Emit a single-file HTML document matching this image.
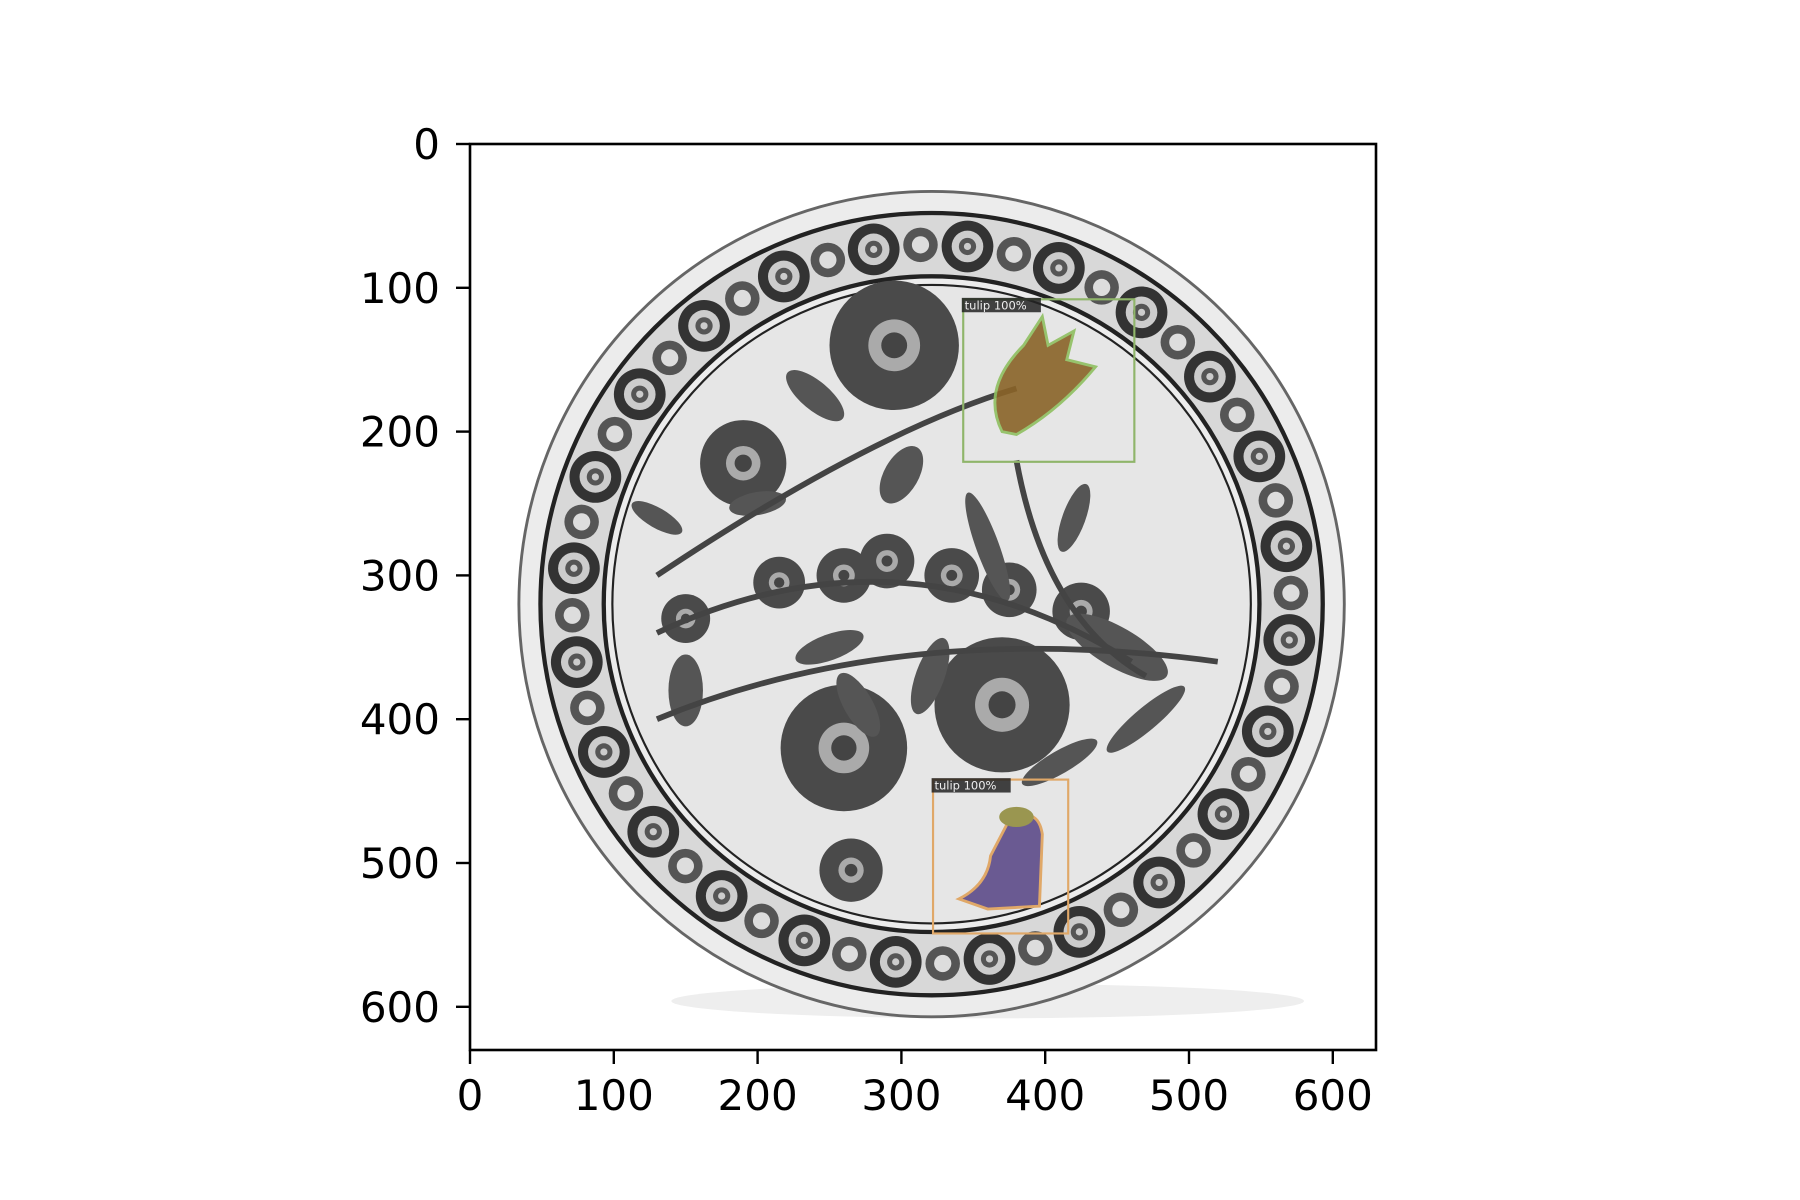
<!DOCTYPE html>
<html><head><meta charset="utf-8"><style>
html,body{margin:0;padding:0;background:#fff;width:1800px;height:1200px;overflow:hidden}
svg text{font-family:"DejaVu Sans","Liberation Sans",sans-serif}
</style></head><body>
<svg id="chart" width="1800" height="1200" viewBox="0 0 1800 1200" xmlns="http://www.w3.org/2000/svg">
<defs><clipPath id="clip"><rect x="0" y="0" width="630" height="630"/></clipPath></defs>
<g id="img" transform="translate(470,144) scale(1.438)" clip-path="url(#clip)">
  <rect x="0" y="0" width="630" height="630" fill="#fff"/>
  <ellipse cx="360" cy="596" rx="220" ry="12" fill="#eee"/>
  <circle cx="321" cy="320" r="287" fill="#ececec" stroke="#666" stroke-width="2"/>
  <circle cx="321" cy="320" r="272" fill="#d8d8d8" stroke="#222" stroke-width="3"/>
  <g id="rim"></g>
  <circle cx="321" cy="320" r="228" fill="#ececec" stroke="#222" stroke-width="3"/>
  <circle cx="321" cy="320" r="222" fill="#e6e6e6" stroke="#222" stroke-width="1.5"/>
  <g id="inner"></g>
</g>
<g id="boxes" transform="translate(470,144) scale(1.438)"></g>
<rect x="470" y="144" width="906" height="906" fill="none" stroke="#000" stroke-width="2.6"/>
<g id="axes"></g>
</svg>
<script>
const xTicks=[0,100,200,300,400,500,600];
const yTicks=[0,100,200,300,400,500,600];
const boxLabels=["tulip 100%","tulip 100%"];
const boxX0=[343,322];
const boxY0=[108,442];
const boxX1=[462,416];
const boxY1=[221,549];
const boxColors=["#8fb56a","#e0a868"];
const X0=470,Y0=144,S=1.438;
const sx=v=>X0+v*S, sy=v=>Y0+v*S;
const NS="http://www.w3.org/2000/svg";
function mk(tag,attrs,parent){const e=document.createElementNS(NS,tag);for(const k in attrs)e.setAttribute(k,attrs[k]);if(parent)parent.appendChild(e);return e;}
const rim=document.getElementById('rim');
for(let i=0;i<24;i++){
  const a=i/24*Math.PI*2+0.1, r=250;
  const cx=321+r*Math.cos(a), cy=320+r*Math.sin(a);
  const g=mk('g',{},rim);
  mk('circle',{cx:cx,cy:cy,r:18,fill:'#333'},g);
  mk('circle',{cx:cx,cy:cy,r:11,fill:'#ccc'},g);
  mk('circle',{cx:cx,cy:cy,r:6,fill:'#555'},g);
  mk('circle',{cx:cx,cy:cy,r:2.5,fill:'#ccc'},g);
  const b=a+Math.PI/24;
  mk('circle',{cx:321+250*Math.cos(b),cy:320+250*Math.sin(b),r:12,fill:'#555'},g);
  mk('circle',{cx:321+250*Math.cos(b),cy:320+250*Math.sin(b),r:6,fill:'#ddd'},g);
}
const inner=document.getElementById('inner');
const fl=[[190,222,30],[215,305,18],[260,300,19],[290,290,19],[335,300,19],[375,310,19],[425,325,20],[150,330,17],[370,390,47],[260,420,44],[265,505,22],[295,140,45]];
fl.forEach(f=>{
  mk('circle',{cx:f[0],cy:f[1],r:f[2],fill:'#4a4a4a'},inner);
  mk('circle',{cx:f[0],cy:f[1],r:f[2]*0.4,fill:'#aaa'},inner);
  mk('circle',{cx:f[0],cy:f[1],r:f[2]*0.2,fill:'#444'},inner);});
const leaves=[[250,350,25,9,-20],[320,370,10,28,20],[270,390,10,25,-30],[300,230,12,22,30],[360,280,8,40,-20],[450,350,40,14,30],[150,380,12,25,0],[420,260,8,25,20],[240,175,25,10,40],[410,430,30,8,-30],[200,250,20,8,-10],[470,400,35,8,-40],[130,260,20,7,30]];
leaves.forEach(l=>mk('ellipse',{cx:l[0],cy:l[1],rx:l[2],ry:l[3],fill:'#555',transform:`rotate(${l[4]} ${l[0]} ${l[1]})`},inner));
mk('path',{d:'M130 340 Q300 260 460 360 M130 300 Q280 200 380 170 M380 220 Q400 330 470 370 M130 400 Q300 330 520 360',stroke:'#444','stroke-width':4,fill:'none'},inner);
mk('path',{d:'M370 200 Q355 170 385 140 L398 120 L402 140 L420 130 L415 150 L435 155 Q410 185 380 202 Z',fill:'#8a6428',stroke:'#8fc060','stroke-width':2,opacity:0.9},inner);
mk('path',{d:'M375 470 Q395 460 398 480 L396 530 L360 532 L340 525 Q360 515 362 495 Z',fill:'#6a5a92',stroke:'#e0a868','stroke-width':2},inner);
mk('ellipse',{cx:380,cy:468,rx:12,ry:7,fill:'#9a9650'},inner);
const bx=document.getElementById('boxes');
boxLabels.forEach((t,i)=>{
  const r=mk('rect',{x:boxX0[i],y:boxY0[i],width:boxX1[i]-boxX0[i],height:boxY1[i]-boxY0[i],fill:'none',stroke:boxColors[i],'stroke-width':1.5});
  
  
  bx.appendChild(r);
  mk('rect',{x:boxX0[i]-1,y:boxY0[i]-1,width:55,height:10,fill:'#222',opacity:0.85},bx);
  const tx=mk('text',{x:boxX0[i]+1,y:boxY0[i]+7,'font-size':8,fill:'#eee'},bx);
  
  
  tx.textContent=t;
});
const ax=document.getElementById('axes');
xTicks.forEach(v=>{
  mk('line',{x1:sx(v),x2:sx(v),y1:1050,y2:1064,stroke:'#000','stroke-width':2.4},ax);
  const t=mk('text',{x:sx(v),y:1110,'font-size':42,'text-anchor':'middle',fill:'#000'},ax);
  
  
  t.textContent=v;
});
yTicks.forEach(v=>{
  mk('line',{x1:456,x2:470,y1:sy(v),y2:sy(v),stroke:'#000','stroke-width':2.4},ax);
  const t=mk('text',{x:440,y:sy(v)+15,'font-size':42,'text-anchor':'end',fill:'#000'},ax);
  
  
  t.textContent=v;
});
</script>
</body></html>
